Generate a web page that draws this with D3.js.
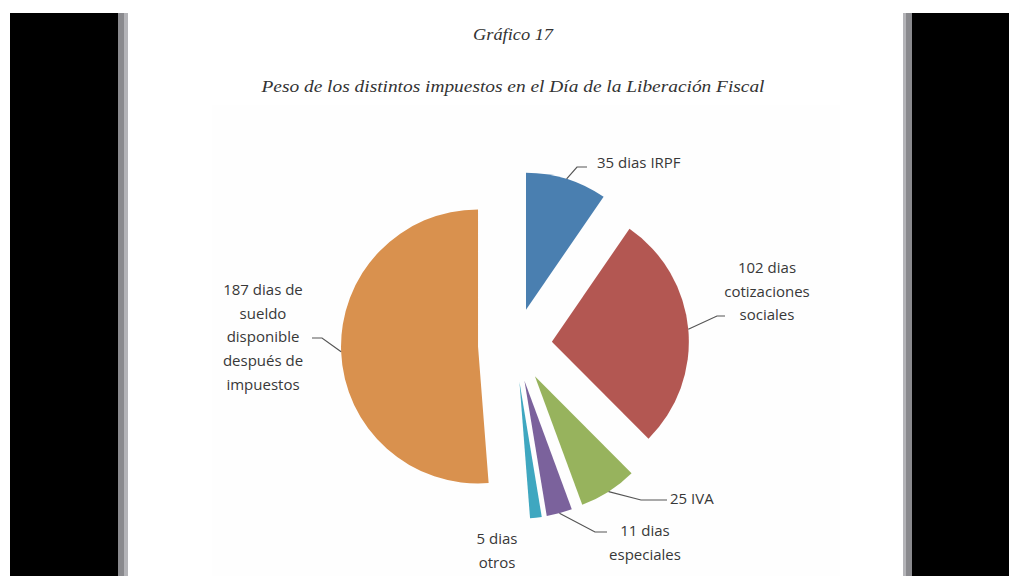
<!DOCTYPE html>
<html>
<head>
<meta charset="utf-8">
<script src="https://cdn.jsdelivr.net/npm/d3@7"></script>
<style>
  html, body { margin: 0; padding: 0; background: #fff; }
  svg { display: block; }
</style>
</head>
<body>
<svg id="chart"></svg>
<script>
// data: days of the year per tax (total 365)
const categories = ['IRPF', 'cotizaciones sociales', 'IVA', 'especiales', 'otros', 'sueldo disponible']
const days = [35, 102, 25, 11, 5, 187]
const labels = [
  ['35 dias IRPF'],
  ['102 dias', 'cotizaciones', 'sociales'],
  ['25 IVA'],
  ['11 dias', 'especiales'],
  ['5 dias', 'otros'],
  ['187 dias de', 'sueldo', 'disponible', 'después de', 'impuestos']
]
const colors = ['#4a7fb0', '#b35752', '#97b35d', '#7b629c', '#3fa7c0', '#d9914e']

const width = 1009
const height = 576
const cx = 515
const cy = 345
const radius = 137
const explode = 37

// label placement: first line position, anchor, leader start and hook length
const labelLayout = [
  { x: 597, y: 163, anchor: 'start', lx: 587, ly: 167, hook: -10 },
  { x: 767, y: 268, anchor: 'middle', lx: 725, ly: 316, hook: -8 },
  { x: 670, y: 499, anchor: 'start', lx: 667, ly: 500, hook: -26 },
  { x: 645, y: 531, anchor: 'middle', lx: 607, ly: 532, hook: -12 },
  { x: 497, y: 539, anchor: 'middle', lx: null },
  { x: 263, y: 290, anchor: 'middle', lx: 312, ly: 338, hook: 10 }
]

const svg = d3.select('#chart')
  .attr('width', width)
  .attr('height', height)

// scanned page frame
svg.append('rect').attr('x', 0).attr('y', 0).attr('width', width).attr('height', height).attr('fill', '#fff')
svg.append('rect').attr('x', 10).attr('y', 13).attr('width', width - 10).attr('height', height - 13).attr('fill', '#000')
svg.append('rect').attr('x', 118).attr('y', 13).attr('width', 794).attr('height', height - 13).attr('fill', '#8a8a8e')
svg.append('rect').attr('x', 124).attr('y', 13).attr('width', 782).attr('height', height - 13).attr('fill', '#b4b4b8')
svg.append('rect').attr('x', 128).attr('y', 13).attr('width', 775).attr('height', height - 13).attr('fill', '#fff')
svg.append('rect').attr('x', 212).attr('y', 105).attr('width', 628).attr('height', height - 105).attr('fill', '#fefefe')

svg.append('text')
  .text('Gráfico 17')
  .attr('x', 513)
  .attr('y', 40)
  .attr('text-anchor', 'middle')
  .attr('textLength', 80)
  .attr('lengthAdjust', 'spacingAndGlyphs')
  .attr('style', 'font-family: "Liberation Serif", serif; font-style: italic; font-size: 16px; fill: #333')

svg.append('text')
  .text('Peso de los distintos impuestos en el Día de la Liberación Fiscal')
  .attr('x', 513)
  .attr('y', 92)
  .attr('text-anchor', 'middle')
  .attr('textLength', 503)
  .attr('lengthAdjust', 'spacingAndGlyphs')
  .attr('style', 'font-family: "Liberation Serif", serif; font-style: italic; font-size: 16px; fill: #333')

const pie = d3.pie().sort(null).value(d => d)
const arc = d3.arc().innerRadius(0).outerRadius(radius)
const slices = pie(days)

const offset = (d, dist) => {
  let mid = (d.startAngle + d.endAngle) / 2
  return [Math.sin(mid) * dist, -Math.cos(mid) * dist]
}

const g = svg.append('g').attr('transform', 'translate(' + cx + ',' + cy + ')')

g.selectAll('path')
  .data(slices)
  .enter()
  .append('path')
  .attr('d', arc)
  .attr('fill', (d, i) => colors[i])
  .attr('transform', d => {
    let o = offset(d, explode)
    return 'translate(' + o[0] + ',' + o[1] + ')'
  })

// leader lines
slices.forEach((d, i) => {
  let l = labelLayout[i]
  if (l.lx === null) return
  let end = offset(d, explode + radius)
  let pts = [[l.lx, l.ly], [l.lx + l.hook, l.ly], [cx + end[0], cy + end[1]]]
  svg.append('path')
    .attr('d', d3.line()(pts))
    .attr('fill', 'none')
    .attr('stroke', '#555')
    .attr('stroke-width', 1.2)
})

// data labels
labels.forEach((lines, i) => {
  let l = labelLayout[i]
  let t = svg.append('text')
    .attr('text-anchor', l.anchor)
    .attr('style', 'font-family: "Open Sans", sans-serif; font-size: 15px; fill: #383838')
  lines.forEach((s, j) => {
    t.append('tspan')
      .text(s)
      .attr('x', l.x)
      .attr('y', l.y + 5 + j * 23.7)
  })
})
</script>
</body>
</html>
